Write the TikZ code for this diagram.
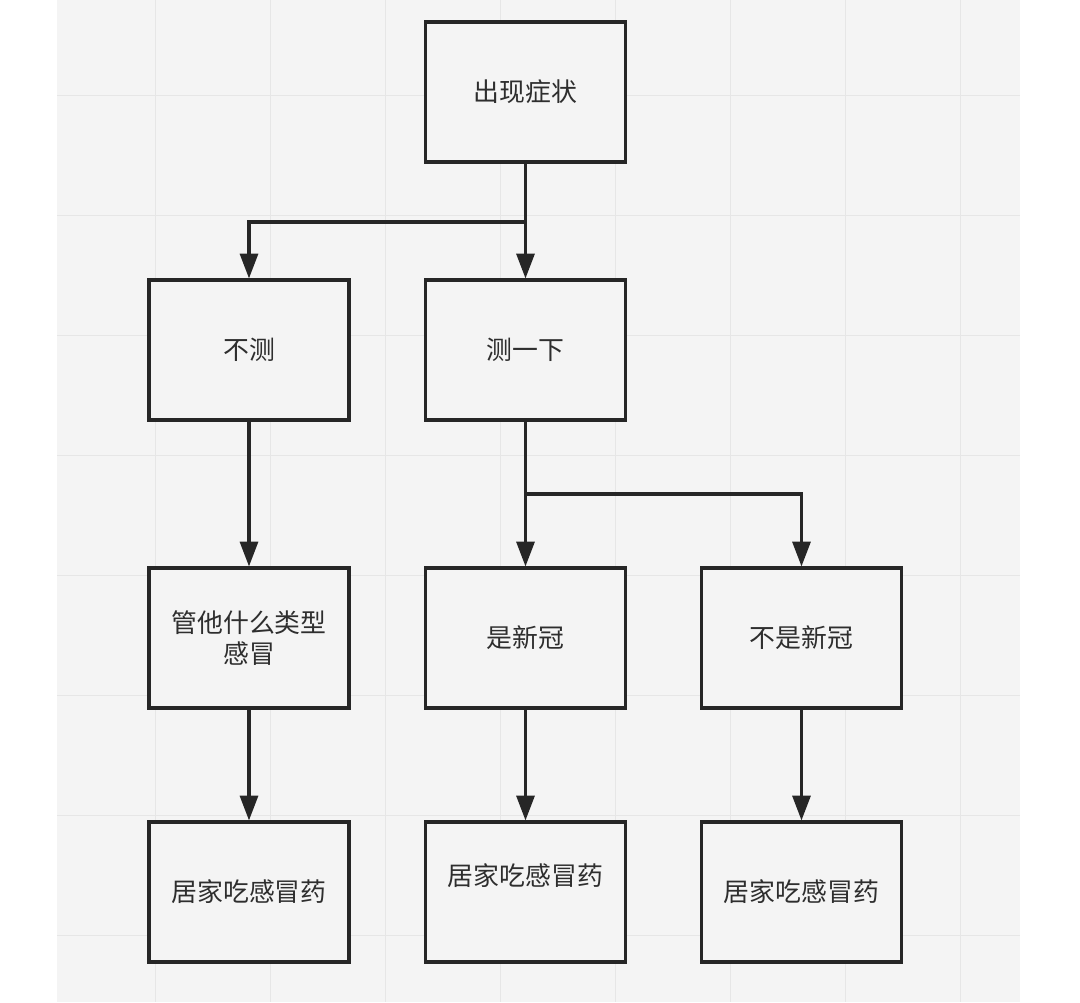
\documentclass[tikz,border=0pt]{standalone}
\usepackage{fontspec}
\newfontfamily\cjk{Noto Sans CJK SC}
\usepackage{tikz}
\usetikzlibrary{arrows.meta, calc}

\definecolor{paper}{HTML}{F4F4F4}
\definecolor{gridline}{HTML}{E6E6E6}
\definecolor{inktext}{HTML}{2E2E2E}

\begin{document}
\begin{tikzpicture}[x=0.025cm, y=-0.025cm]
    \tikzset{
        box/.style={
                draw=black!85, line width=2.2pt, fill=paper,
                minimum width=5cm, minimum height=3.5cm,
                font=\cjk\fontsize{18.4}{21.5}\selectfont, text=inktext, align=center
            },
        flow/.style={
                draw=black!85, line width=2.2pt,
                -{Triangle[width=0.45cm, length=0.62cm]}
            }
    }

    % background sheet
    \useasboundingbox (0,0) rectangle (1080,1002);
    \fill[white] (0,0) rectangle (1080,1002);
    \fill[paper] (57,0) rectangle (1020,1002);
    \foreach \gx in {155, 270, 385, 500, 615, 730, 845, 960}
        \draw[gridline, line width=0.6pt] (\gx,0) -- (\gx,1002);
    \foreach \gy in {95, 215, 335, 455, 575, 695, 815, 935}
        \draw[gridline, line width=0.6pt] (57,\gy) -- (1020,\gy);

    % nodes
    \node[box] (symptom) at (525.5, 92) {出现症状};
    \node[box] (notest) at (249, 350) {不测};
    \node[box] (test) at (525.5, 350) {测一下};
    \node[box] (anycold) at (249, 638) {管他什么类型\\感冒};
    \node[box] (covid) at (525.5, 638) {是新冠};
    \node[box] (notcovid) at (801.5, 638) {不是新冠};
    \node[box] (homeA) at (249, 892) {居家吃感冒药};
    \node[box, text depth=0.85cm] (homeB) at (525.5, 892) {居家吃感冒药};
    \node[box] (homeC) at (801.5, 892) {居家吃感冒药};

    % junctions
    \coordinate (split1) at (525.5, 222);
    \coordinate (split2) at (525.5, 494);

    % connectors
    \draw[draw=black!85, line width=2.2pt] (symptom.south) -- (split1);
    \draw[flow] (split1) -| (notest.north);
    \draw[flow] (split1) -- (test.north);
    \draw[draw=black!85, line width=2.2pt] (test.south) -- (split2);
    \draw[flow] (split2) -- (covid.north);
    \draw[flow] (split2) -| (notcovid.north);
    \draw[flow] (notest) -- (anycold);
    \draw[flow] (anycold) -- (homeA);
    \draw[flow] (covid) -- (homeB);
    \draw[flow] (notcovid) -- (homeC);
\end{tikzpicture}
\end{document}
